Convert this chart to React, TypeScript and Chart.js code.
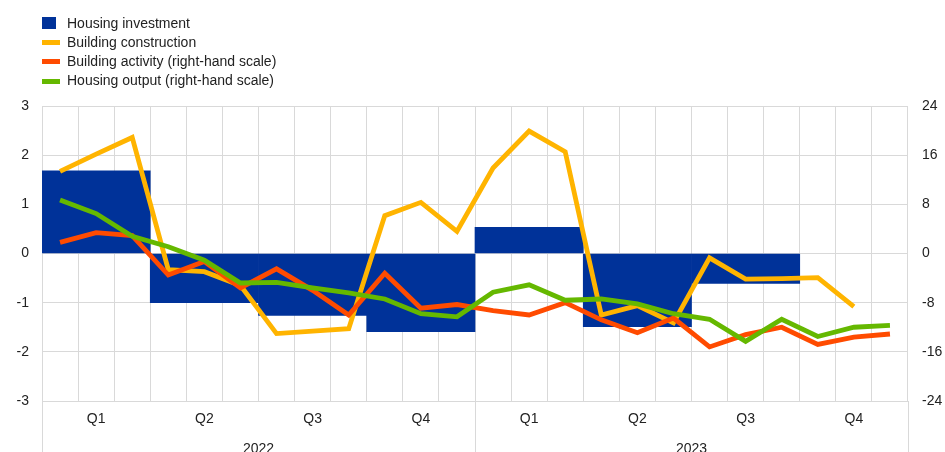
import React, { useEffect, useRef } from 'react';
import { Chart, registerables } from 'chart.js';

Chart.register(...registerables);

const months = [
  'Jan 2022', 'Feb 2022', 'Mar 2022', 'Apr 2022', 'May 2022', 'Jun 2022',
  'Jul 2022', 'Aug 2022', 'Sep 2022', 'Oct 2022', 'Nov 2022', 'Dec 2022',
  'Jan 2023', 'Feb 2023', 'Mar 2023', 'Apr 2023', 'May 2023', 'Jun 2023',
  'Jul 2023', 'Aug 2023', 'Sep 2023', 'Oct 2023', 'Nov 2023', 'Dec 2023',
];
const quarters = ['Q1', 'Q2', 'Q3', 'Q4', 'Q1', 'Q2', 'Q3', 'Q4'];
const years = ['2022', '2023'];

const leftTicks = [-3, 3, 1];
const rightTicks = [-24, 24, 8];

const seriesNames = [
  'Housing investment',
  'Building construction',
  'Building activity (right-hand scale)',
  'Housing output (right-hand scale)',
];
const seriesColors = ['#003299', '#ffb400', '#ff4b00', '#65b800'];

const housingInvestment = [1.68, -1.0, -1.26, -1.59, 0.53, -1.49, -0.61, null];
const buildingConstruction = [
  1.67, 2.02, 2.36, -0.33, -0.37, -0.65, -1.63, -1.58, -1.53, 0.77, 1.04, 0.45,
  1.74, 2.49, 2.07, -1.25, -1.06, -1.41, -0.09, -0.52, -0.51, -0.49, -1.08, null,
];
const buildingActivity = [
  1.8, 3.4, 2.9, -3.5, -1.3, -5.6, -2.5, -6.0, -10.0, -3.2, -8.9, -8.3,
  -9.3, -10.0, -8.0, -10.8, -12.9, -10.5, -15.2, -13.2, -12.0, -14.8, -13.6, -13.1,
];
const housingOutput = [
  8.7, 6.5, 2.8, 1.1, -1.1, -4.8, -4.7, -5.6, -6.4, -7.4, -9.8, -10.3,
  -6.3, -5.1, -7.6, -7.4, -8.2, -9.8, -10.7, -14.3, -10.7, -13.5, -12.0, -11.7,
];

const GRID = '#d9d9d9';
const TEXT = '#222222';
const FONT = 'Arial, "Liberation Sans", sans-serif';

const yearSeparators = {
  id: 'yearSeparators',
  afterDraw(chart: any) {
    const s = chart.scales.xy;
    const { ctx, chartArea } = chart;
    const n = s.ticks.length;
    const w = (s.right - s.left) / n;
    ctx.save();
    ctx.strokeStyle = GRID;
    ctx.lineWidth = 1;
    for (let i = 0; i <= n; i++) {
      const x = Math.round(s.left + i * w) + 0.5;
      ctx.beginPath();
      ctx.moveTo(x, chartArea.bottom);
      ctx.lineTo(x, chart.height);
      ctx.stroke();
    }
    ctx.restore();
  },
};

export default function App() {
  const ref = useRef<HTMLCanvasElement | null>(null);

  useEffect(() => {
    document.body.style.margin = '0';
    document.body.style.overflow = 'hidden';
    document.documentElement.style.overflow = 'hidden';
    if (!ref.current) return;
    const tickFont = { family: FONT, size: 14 };
    const lineWidth = 4.8;
    const chart = new Chart(ref.current, {
      type: 'bar',
      data: {
        labels: months,
        datasets: [
          {
            type: 'line',
            label: seriesNames[3],
            data: housingOutput,
            borderColor: seriesColors[3],
            backgroundColor: seriesColors[3],
            borderWidth: lineWidth,
            pointRadius: 0,
            xAxisID: 'x',
            yAxisID: 'y2',
            order: 1,
          },
          {
            type: 'line',
            label: seriesNames[2],
            data: buildingActivity,
            borderColor: seriesColors[2],
            backgroundColor: seriesColors[2],
            borderWidth: lineWidth,
            pointRadius: 0,
            xAxisID: 'x',
            yAxisID: 'y2',
            order: 2,
          },
          {
            type: 'line',
            label: seriesNames[1],
            data: buildingConstruction,
            borderColor: seriesColors[1],
            backgroundColor: seriesColors[1],
            borderWidth: lineWidth,
            pointRadius: 0,
            xAxisID: 'x',
            yAxisID: 'y',
            order: 3,
          },
          {
            type: 'bar',
            label: seriesNames[0],
            data: housingInvestment.map((v, i) => ({ x: quarters[i] + '_' + i, y: v })) as any,
            backgroundColor: seriesColors[0],
            borderWidth: 0,
            barPercentage: 1,
            categoryPercentage: 1,
            grouped: false,
            xAxisID: 'xq',
            yAxisID: 'y',
            order: 4,
          } as any,
        ],
      },
      options: {
        animation: false,
        responsive: false,
        maintainAspectRatio: false,
        layout: { padding: { top: 106, left: 0, right: 0, bottom: 0 } },
        plugins: { legend: { display: false }, tooltip: { enabled: false } },
        scales: {
          x: {
            type: 'category',
            labels: months,
            offset: true,
            weight: 0,
            grid: { color: GRID, offset: true, drawTicks: false },
            border: { display: false },
            ticks: { display: false },
            afterFit: (s: any) => { s.height = 0; },
          },
          xq: {
            type: 'category',
            labels: quarters.map((q, i) => q + '_' + i),
            offset: true,
            position: 'bottom',
            weight: 1,
            grid: { display: false, drawTicks: false },
            border: { display: false },
            ticks: {
              color: TEXT,
              font: tickFont,
              padding: 10,
              maxRotation: 0,
              autoSkip: false,
              callback: (_v: any, i: number) => quarters[i],
            },
            afterFit: (s: any) => { s.height = 32; },
          },
          xy: {
            type: 'category',
            labels: years,
            offset: true,
            position: 'bottom',
            weight: 2,
            grid: { display: false, drawTicks: false },
            border: { display: false },
            ticks: { color: TEXT, font: tickFont, padding: 8, maxRotation: 0 },
            afterFit: (s: any) => { s.height = 30; },
          },
          y: {
            position: 'left',
            min: leftTicks[0],
            max: leftTicks[1],
            grid: { color: GRID, drawTicks: false },
            border: { display: false },
            ticks: { stepSize: leftTicks[2], color: TEXT, font: tickFont, padding: 13 },
            afterFit: (s: any) => { s.width = 42; },
          },
          y2: {
            position: 'right',
            min: rightTicks[0],
            max: rightTicks[1],
            grid: { drawOnChartArea: false, drawTicks: false },
            border: { display: false },
            ticks: { stepSize: rightTicks[2], color: TEXT, font: tickFont, padding: 14 },
            afterFit: (s: any) => { s.width = 37; },
          },
        },
      } as any,
      plugins: [yearSeparators],
    });
    return () => chart.destroy();
  }, []);

  return (
    <div style={{ position: 'relative', width: 945, height: 463 }}>
      <canvas ref={ref} width={945} height={463} style={{ display: 'block' }} />
      <div
        style={{
          position: 'absolute',
          left: 42,
          top: 13.5,
          fontFamily: FONT,
          fontSize: 14,
          color: TEXT,
          lineHeight: '19.3px',
        }}
      >
        {seriesNames.map((name, i) => (
          <div key={name} style={{ display: 'flex', alignItems: 'center', height: 19.3 }}>
            <span
              style={{
                display: 'inline-block',
                width: i === 0 ? 14 : 18,
                height: i === 0 ? 12 : 5,
                background: seriesColors[i],
                marginRight: i === 0 ? 11 : 7,
              }}
            />
            <span>{name}</span>
          </div>
        ))}
      </div>
    </div>
  );
}
